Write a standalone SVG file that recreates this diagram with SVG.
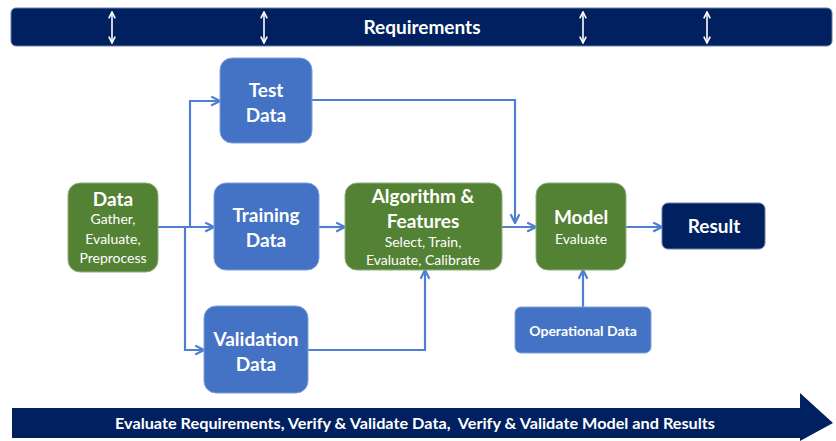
<svg xmlns="http://www.w3.org/2000/svg" width="836" height="441" viewBox="0 0 836 441">
<style>
text{font-family:Lato,"Open Sans","Liberation Sans",sans-serif;fill:#fff;text-anchor:middle}
.t{font-weight:bold;font-size:19px}
.s{font-size:14px}
.blue{fill:#4472C4;stroke:#7fa0d8;stroke-width:1}
.green{fill:#548235;stroke:#8fae7a;stroke-width:1}
.navy{fill:#002060;stroke:#6b7fa8;stroke-width:1}
.c{fill:none;stroke:#4f7fd1;stroke-width:2.2}
.w{fill:none;stroke:#fff;stroke-width:1.6}
</style>
<defs>
<marker id="ah" viewBox="0 0 10 10" refX="9" refY="5" markerWidth="5" markerHeight="5" orient="auto" markerUnits="strokeWidth">
<polyline points="1,1 9,5 1,9" fill="none" stroke="#4f7fd1" stroke-width="2"/>
</marker>
<marker id="wh" viewBox="0 0 10 10" refX="9" refY="5" markerWidth="5" markerHeight="5" orient="auto-start-reverse" markerUnits="strokeWidth">
<polyline points="1,1 9,5 1,9" fill="none" stroke="#fff" stroke-width="2"/>
</marker>
</defs>

<g id="requirements">
<rect x="11" y="8" width="821" height="38" rx="5" class="navy"/>
<text x="422" y="34" style="font-weight:bold;font-size:19px">Requirements</text>
<line x1="112" y1="12" x2="112" y2="43" class="w" marker-start="url(#wh)" marker-end="url(#wh)"/>
<line x1="264" y1="12" x2="264" y2="43" class="w" marker-start="url(#wh)" marker-end="url(#wh)"/>
<line x1="583" y1="12" x2="583" y2="43" class="w" marker-start="url(#wh)" marker-end="url(#wh)"/>
<line x1="707" y1="12" x2="707" y2="43" class="w" marker-start="url(#wh)" marker-end="url(#wh)"/>
</g>

<g id="connectors">
<polyline points="158,227 214,227" class="c" marker-end="url(#ah)"/>
<polyline points="190,227 190,101 220,101" class="c" marker-end="url(#ah)"/>
<polyline points="185,227 185,350 204,350" class="c" marker-end="url(#ah)"/>
<polyline points="312,100 515,100 515,223" class="c" marker-end="url(#ah)"/>
<polyline points="319,227 345,227" class="c" marker-end="url(#ah)"/>
<polyline points="502,227 536,227" class="c" marker-end="url(#ah)"/>
<polyline points="308,350 425,350 425,270" class="c" marker-end="url(#ah)"/>
<polyline points="583,307 583,270" class="c" marker-end="url(#ah)"/>
<polyline points="626,227 662,227" class="c" marker-end="url(#ah)"/>
</g>

<g id="data">
<rect x="68" y="183" width="90" height="89" rx="12" class="green"/>
<text x="113" y="206" class="t">Data</text>
<text x="113" y="224" class="s">Gather,</text>
<text x="113" y="244" class="s">Evaluate,</text>
<text x="113" y="263" class="s">Preprocess</text>
</g>

<g id="test-data">
<rect x="220" y="58" width="92" height="85" rx="12" class="blue"/>
<text x="266" y="97" class="t">Test</text>
<text x="266" y="122" class="t">Data</text>
</g>

<g id="training-data">
<rect x="214" y="183" width="105" height="87" rx="12" class="blue"/>
<text x="266" y="222" class="t">Training</text>
<text x="266" y="247" class="t">Data</text>
</g>

<g id="validation-data">
<rect x="204" y="306" width="104" height="87" rx="12" class="blue"/>
<text x="256" y="346" class="t">Validation</text>
<text x="256" y="371" class="t">Data</text>
</g>

<g id="algorithm">
<rect x="345" y="183" width="157" height="87" rx="12" class="green"/>
<text x="423" y="203" class="t">Algorithm &amp;</text>
<text x="423" y="228" class="t">Features</text>
<text x="423" y="247" class="s">Select, Train,</text>
<text x="423" y="265" class="s">Evaluate, Calibrate</text>
</g>

<g id="model">
<rect x="536" y="183" width="90" height="87" rx="12" class="green"/>
<text x="581" y="224" class="t">Model</text>
<text x="581" y="244" class="s">Evaluate</text>
</g>

<g id="result">
<rect x="662" y="203" width="103" height="46" rx="6" class="navy"/>
<text x="714" y="233" class="t">Result</text>
</g>

<g id="operational-data">
<rect x="515" y="307" width="136" height="46" rx="6" class="blue"/>
<text x="583" y="336" style="font-weight:bold;font-size:14px">Operational Data</text>
</g>

<g id="evaluate-arrow">
<polygon points="12,408 800,408 800,393 833,423 800,441 800,438 12,438" fill="#002060"/>
<text x="415" y="429" xml:space="preserve" textLength="600" lengthAdjust="spacingAndGlyphs" style="font-weight:bold;font-size:16px;white-space:pre">Evaluate Requirements, Verify &amp; Validate Data,  Verify &amp; Validate Model and Results</text>
</g>
</svg>
